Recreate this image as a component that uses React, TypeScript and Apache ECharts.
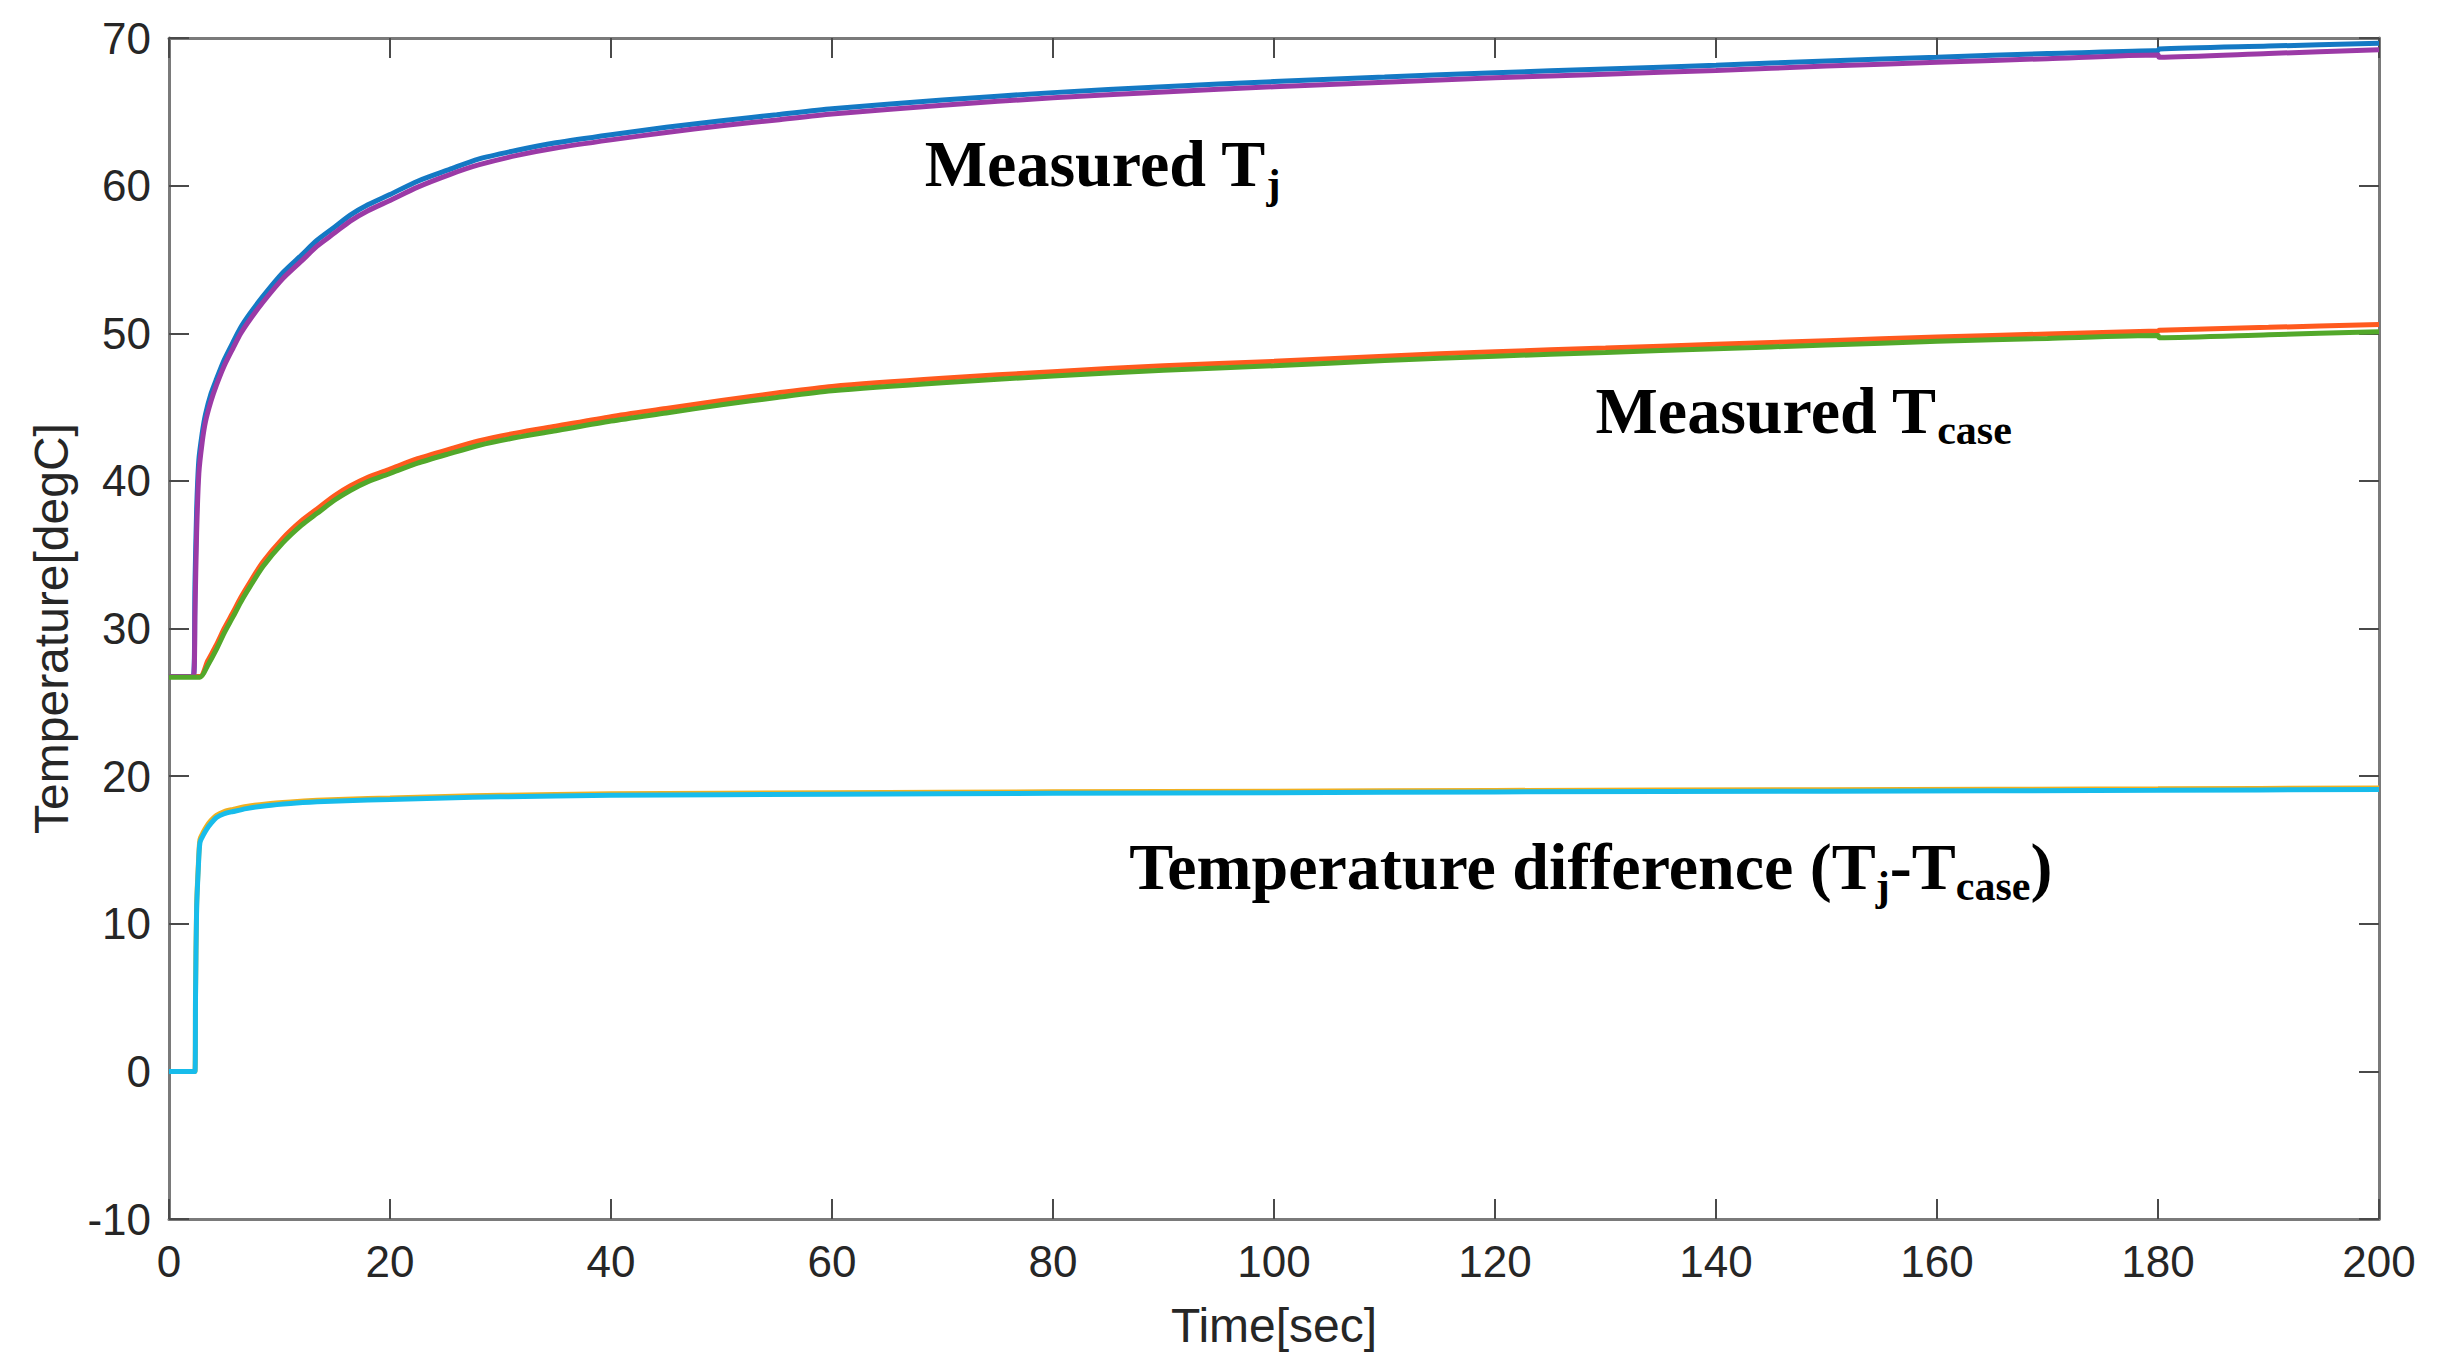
import React, { useEffect, useRef } from "react";
import * as echarts from "echarts";

// ---------- data ----------
const tjTime = [0, 2.2, 2.35, 2.5, 2.7, 3.0, 3.3, 3.8, 4.3, 5.0, 5.8, 6.5, 7.3, 8.5, 10.3, 12, 13.4, 15, 16.4, 18, 20, 22.5, 25.4, 28, 31.5, 35, 40, 45, 50, 55, 60, 70, 80, 90, 100, 110, 120, 130, 140, 150, 160, 170, 180, 180.1, 190, 200];
const tjMeas1 = [26.75, 26.75, 33, 38, 41.4, 43.2, 44.5, 45.9, 46.9, 48.2, 49.4, 50.4, 51.3, 52.5, 54.1, 55.3, 56.3, 57.2, 58.0, 58.7, 59.4, 60.3, 61.1, 61.8, 62.4, 62.9, 63.45, 63.95, 64.4, 64.8, 65.2, 65.8, 66.3, 66.7, 67.05, 67.35, 67.65, 67.9, 68.15, 68.45, 68.7, 68.95, 69.15, 69.25, 69.45, 69.65];
const tjMeas2 = [26.75, 26.75, 31, 36.5, 40.5, 42.6, 44.0, 45.4, 46.5, 47.8, 49.0, 50.0, 50.9, 52.1, 53.7, 54.9, 55.9, 56.8, 57.6, 58.3, 59.0, 59.9, 60.75, 61.4, 62.05, 62.55, 63.1, 63.6, 64.05, 64.45, 64.85, 65.45, 65.95, 66.35, 66.7, 67.0, 67.3, 67.55, 67.8, 68.1, 68.35, 68.6, 68.85, 68.7, 68.95, 69.2];

const tcTime = [0, 2.8, 3.5, 4.3, 5.0, 5.8, 6.5, 7.3, 8.5, 10.3, 12, 13.4, 15, 16.4, 18, 20, 22.5, 25.4, 28, 31.5, 35, 40, 45, 50, 55, 60, 70, 80, 90, 100, 110, 120, 130, 140, 150, 160, 170, 180, 180.1, 190, 200];
const tcMeas1 = [26.75, 26.75, 27.8, 28.9, 30.0, 31.1, 32.1, 33.1, 34.5, 36.1, 37.3, 38.1, 39.0, 39.65, 40.25, 40.8, 41.5, 42.15, 42.7, 43.25, 43.7, 44.35, 44.9, 45.45, 45.95, 46.4, 46.95, 47.4, 47.8, 48.1, 48.45, 48.75, 49.0, 49.25, 49.5, 49.75, 49.95, 50.15, 50.2, 50.4, 50.6];
const tcMeas2 = [26.7, 26.7, 27.5, 28.6, 29.7, 30.8, 31.8, 32.8, 34.2, 35.8, 37.0, 37.8, 38.7, 39.35, 39.95, 40.5, 41.2, 41.85, 42.4, 42.95, 43.4, 44.05, 44.6, 45.15, 45.65, 46.1, 46.65, 47.1, 47.5, 47.8, 48.15, 48.45, 48.7, 48.95, 49.2, 49.45, 49.65, 49.85, 49.7, 49.9, 50.1];

const dTime = [0, 2.35, 2.4, 2.5, 2.65, 2.8, 3.1, 3.4, 3.8, 4.3, 5.0, 5.8, 7, 8.8, 11, 13.4, 16, 20, 25, 30, 40, 60, 80, 100, 120, 150, 180, 200];
const diffMeas1 = [0, 0, 5.2, 11.2, 13.9, 15.7, 16.2, 16.6, 17.0, 17.35, 17.6, 17.75, 17.95, 18.12, 18.25, 18.36, 18.44, 18.52, 18.62, 18.7, 18.8, 18.88, 18.94, 18.98, 19.03, 19.08, 19.14, 19.2];
const diffMeas2 = [0, 0, 5, 11, 13.7, 15.5, 16.0, 16.4, 16.8, 17.2, 17.45, 17.6, 17.8, 18.0, 18.15, 18.26, 18.34, 18.42, 18.52, 18.6, 18.7, 18.78, 18.84, 18.88, 18.93, 18.98, 19.04, 19.1];

const xTicks = { min: 0, max: 200, interval: 20 };
const yTicks = { min: -10, max: 70, interval: 10 };

const seriesNames = ["Tj (1)", "Tcase (1)", "Tj-Tcase (1)", "Tj (2)", "Tcase (2)", "Tj-Tcase (2)"];
const seriesColors = ["#1479C4", "#FF5A1E", "#F0B020", "#9B3AA6", "#52A82A", "#17BCEB"];

// annotation anchors: [time, temperature] at the left end of the text baseline
const annotationAnchors = [
  [68.4, 60.0],
  [129.1, 43.3],
  [86.9, 12.4],
];
const annotationTexts = [
  "{m|Measured T}{s|j}",
  "{m|Measured T}{s|case}",
  "{m|Temperature difference (T}{s|j}{m|-T}{s|case}{m|)}",
];

const pairs = (xs: number[], ys: number[]) => xs.map((x, i) => [x, ys[i]]);

export default function App() {
  const ref = useRef<HTMLDivElement>(null);

  useEffect(() => {
    if (!ref.current) return;
    const chart = echarts.init(ref.current, undefined, { renderer: "svg" });

    const axisLine = { show: true, onZero: false, lineStyle: { color: "#7a7a7a", width: 3 } };
    const axisTick = { show: true, inside: true, length: 20, lineStyle: { color: "#4a4a4a", width: 2 } };
    const labelStyle = { fontFamily: "Liberation Sans, Arial, sans-serif", fontSize: 44, color: "#262626" };
    const nameStyle = { fontFamily: "Liberation Sans, Arial, sans-serif", fontSize: 48, color: "#262626" };

    const datasets = [
      pairs(tjTime, tjMeas1),
      pairs(tcTime, tcMeas1),
      pairs(dTime, diffMeas1),
      pairs(tjTime, tjMeas2),
      pairs(tcTime, tcMeas2),
      pairs(dTime, diffMeas2),
    ];

    chart.setOption({
      animation: false,
      backgroundColor: "#ffffff",
      grid: { left: 169, right: 65, top: 38, bottom: 152, containLabel: false },
      xAxis: [
        {
          type: "value",
          position: "bottom",
          ...xTicks,
          axisLine,
          axisTick,
          splitLine: { show: false },
          axisLabel: { ...labelStyle, margin: 20 },
          name: "Time[sec]",
          nameLocation: "middle",
          nameGap: 82,
          nameTextStyle: nameStyle,
        },
        {
          type: "value",
          position: "top",
          ...xTicks,
          axisLine,
          axisTick,
          splitLine: { show: false },
          axisLabel: { show: false },
        },
      ],
      yAxis: [
        {
          type: "value",
          position: "left",
          ...yTicks,
          axisLine,
          axisTick,
          splitLine: { show: false },
          axisLabel: { ...labelStyle, margin: 18 },
          name: "Temperature[degC]",
          nameLocation: "middle",
          nameRotate: 90,
          nameGap: 94,
          nameTextStyle: nameStyle,
        },
        {
          type: "value",
          position: "right",
          ...yTicks,
          axisLine,
          axisTick,
          splitLine: { show: false },
          axisLabel: { show: false },
        },
      ],
      series: datasets.map((d, i) => ({
        type: "line",
        name: seriesNames[i],
        data: d,
        xAxisIndex: 0,
        yAxisIndex: 0,
        showSymbol: false,
        symbol: "none",
        smooth: 0.25,
        lineStyle: { color: seriesColors[i], width: 5 },
        itemStyle: { color: seriesColors[i] },
        z: 2 + i,
      })),
    });

    const rich = {
      m: {
        fontFamily: "Liberation Serif, Times New Roman, serif",
        fontWeight: "bold",
        fontSize: 66,
        fill: "#000000",
        color: "#000000",
      },
      s: {
        fontFamily: "Liberation Serif, Times New Roman, serif",
        fontWeight: "bold",
        fontSize: 42,
        padding: [40, 0, 0, 0],
        fill: "#000000",
        color: "#000000",
      },
    };

    const graphics = annotationAnchors.map((a, i) => {
      const p = chart.convertToPixel({ xAxisIndex: 0, yAxisIndex: 0 }, a) as number[];
      return {
        type: "text",
        x: p[0],
        y: p[1] - 22,
        z: 100,
        style: {
          text: annotationTexts[i],
          rich,
          fill: "#000000",
          align: "left",
          verticalAlign: "middle",
        },
      };
    });
    chart.setOption({ graphic: graphics });

    return () => chart.dispose();
  }, []);

  return (
    <div
      ref={ref}
      style={{ position: "absolute", left: 0, top: 0, width: 2444, height: 1371, background: "#fff" }}
    />
  );
}
